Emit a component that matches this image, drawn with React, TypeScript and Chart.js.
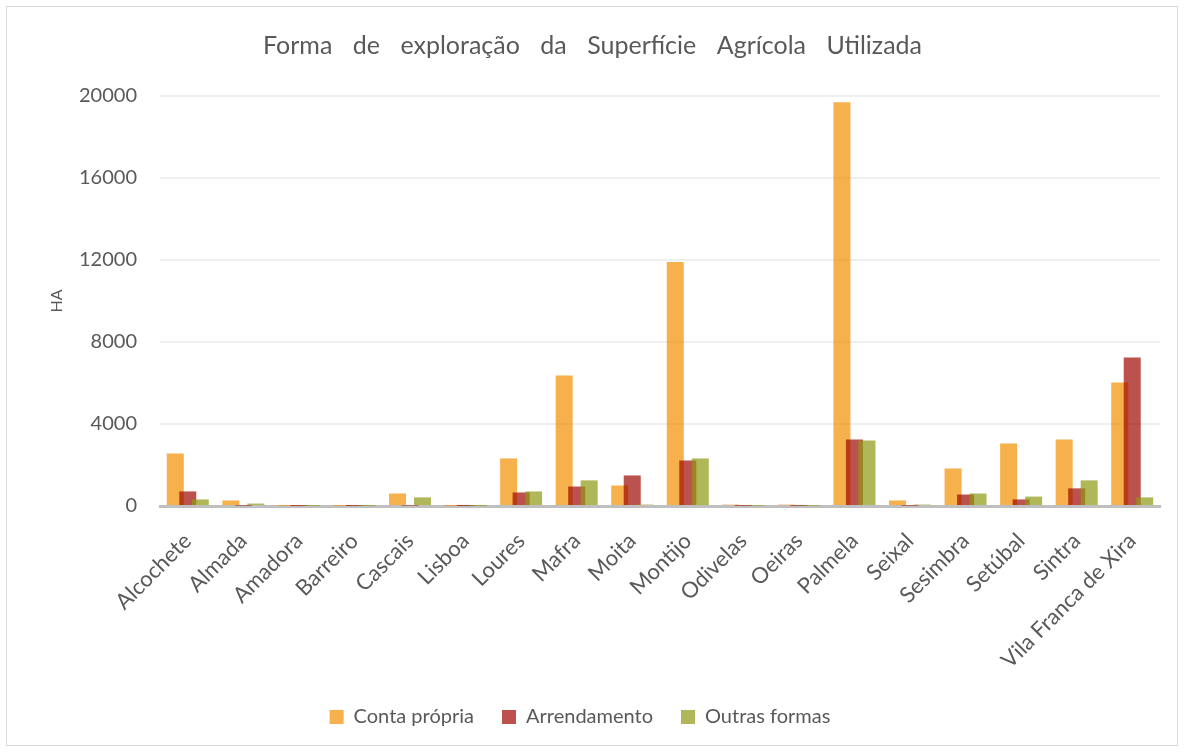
import React, { useEffect, useRef } from "react";
import { Chart, registerables } from "chart.js";

Chart.register(...registerables);

const titleText = "Forma de exploração da Superfície Agrícola Utilizada";
const yAxisTitle = "HA";
const categories = [
  "Alcochete", "Almada", "Amadora", "Barreiro", "Cascais", "Lisboa", "Loures", "Mafra", "Moita",
  "Montijo", "Odivelas", "Oeiras", "Palmela", "Seixal", "Sesimbra", "Setúbal", "Sintra", "Vila Franca de Xira",
];
const seriesNames = ["Conta própria", "Arrendamento", "Outras formas"];
const contaPropria = [2560, 270, 10, 10, 610, 5, 2320, 6370, 1000, 11900, 70, 70, 19700, 270, 1830, 3050, 3250, 6030];
const arrendamento = [710, 15, 5, 5, 20, 2, 660, 950, 1490, 2220, 10, 10, 3250, 15, 560, 320, 860, 7250];
const outrasFormas = [320, 120, 5, 5, 420, 2, 710, 1250, 70, 2320, 15, 15, 3200, 70, 610, 460, 1250, 420];
const yTicks = [0, 4000, 8000, 12000, 16000, 20000];

const FONT = "Lato";
const TEXT = "#595959";

const frameAndTitle = {
  id: "frameAndTitle",
  beforeDraw(chart: any) {
    const ctx = chart.ctx;
    ctx.save();
    ctx.fillStyle = "#ffffff";
    ctx.fillRect(0, 0, chart.width, chart.height);
    ctx.strokeStyle = "#D9D9D9";
    ctx.lineWidth = 1;
    ctx.strokeRect(6.5, 6.5, chart.width - 13, chart.height - 13);
    ctx.restore();
  },
  afterDraw(chart: any) {
    const ctx = chart.ctx;
    ctx.save();
    ctx.font = `25px ${FONT}`;
    ctx.fillStyle = TEXT;
    ctx.textBaseline = "middle";
    ctx.textAlign = "left";
    const words = titleText.split(" ");
    const widths = words.map((w) => ctx.measureText(w).width);
    const target = 659;
    const sum = widths.reduce((a, b) => a + b, 0);
    const gap = (target - sum) / (words.length - 1);
    let x = 592.5 - target / 2;
    words.forEach((w, i) => {
      ctx.fillText(w, x, 46);
      x += widths[i] + gap;
    });
    ctx.restore();
  },
};

const drawInOrder = {
  id: "drawInOrder",
  beforeDatasetsDraw(chart: any) {
    const metas = chart.getSortedVisibleDatasetMetas();
    const ctx = chart.ctx;
    const area = chart.chartArea;
    ctx.save();
    ctx.beginPath();
    ctx.rect(area.left, area.top - 2, area.right - area.left, area.bottom - area.top + 2);
    ctx.clip();
    metas.forEach((m: any) => m.controller.draw());
    ctx.restore();
    return false;
  },
};

export default function App() {
  const ref = useRef<HTMLCanvasElement | null>(null);
  useEffect(() => {
    if (!ref.current) return;
    const colors = ["rgba(242,142,0,0.7)", "rgba(158,8,1,0.7)", "rgba(142,152,19,0.7)"];
    const values = [contaPropria, arrendamento, outrasFormas];
    const chart = new Chart(ref.current, {
      type: "bar",
      data: {
        labels: categories,
        datasets: seriesNames.map((name, i) => ({
          label: name,
          data: values[i],
          backgroundColor: colors[i],
          borderWidth: 0,
          categoryPercentage: 0.675,
          barPercentage: 1.36,
        })),
      },
      plugins: [frameAndTitle, drawInOrder],
      options: {
        animation: false,
        responsive: false,
        maintainAspectRatio: false,
        layout: { padding: { top: 96, left: 0, right: 24, bottom: 15 } },
        plugins: {
          title: { display: false },
          tooltip: { enabled: false },
          legend: {
            position: "bottom",
            labels: {
              font: { family: FONT, size: 20 },
              color: TEXT,
              boxWidth: 14,
              boxHeight: 14,
              padding: 28,
              generateLabels: (chart: any) =>
                chart.data.datasets.map((ds: any, i: number) => ({
                  text: ds.label,
                  fillStyle: ["#F6B04C", "#BB524D", "#B0B75A"][i],
                  strokeStyle: "rgba(0,0,0,0)",
                  lineWidth: 0,
                  fontColor: TEXT,
                  datasetIndex: i,
                  hidden: false,
                })),
            },
          },
        },
        scales: {
          x: {
            grid: { display: false, drawTicks: false },
            border: { display: true, color: "#BFBFBF", width: 3 },
            ticks: {
              autoSkip: false,
              minRotation: 45,
              maxRotation: 45,
              padding: 22,
              color: TEXT,
              font: { family: FONT, size: 22 },
            },
            afterFit: (scale: any) => {
              scale.height = 173;
            },
          },
          y: {
            min: 0,
            max: 20000,
            afterBuildTicks: (scale: any) => {
              scale.ticks = yTicks.map((v) => ({ value: v }));
            },
            grid: { color: "#EFEFEF", lineWidth: 2, drawTicks: false },
            border: { display: false },
            ticks: {
              padding: 23,
              color: TEXT,
              font: { family: FONT, size: 20 },
              callback: (v: any) => String(v),
            },
            title: {
              display: true,
              text: yAxisTitle,
              color: TEXT,
              font: { family: FONT, size: 16 },
              padding: { top: 47, bottom: 0 },
            },
            afterFit: (scale: any) => {
              scale.width = 160;
            },
          },
        },
      },
    });
    return () => chart.destroy();
  }, []);
  return (
    <div style={{ position: "fixed", left: 0, top: 0, width: 1184, height: 752, background: "#fff" }}>
      <canvas ref={ref} width={1184} height={752} style={{ display: "block", width: 1184, height: 752 }} />
    </div>
  );
}
